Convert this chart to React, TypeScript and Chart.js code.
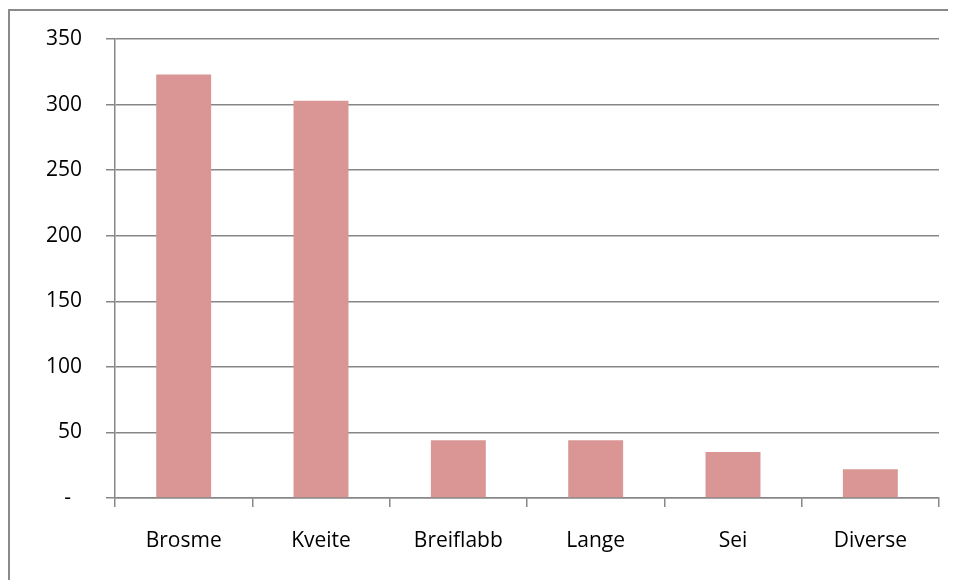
import React, { useEffect, useRef } from "react";
import { Chart, registerables } from "chart.js";

Chart.register(...registerables);

const categories = ["Brosme", "Kveite", "Breiflabb", "Lange", "Sei", "Diverse"];
const values = [323, 303, 44, 44, 35, 22];
const yMin = 0;
const yMax = 350;
const yStep = 50;

const GRID = "#878787";
const FONT = "'Open Sans', 'Noto Sans', sans-serif";

export default function App() {
  const ref = useRef<HTMLCanvasElement | null>(null);

  useEffect(() => {
    document.body.style.overflow = "hidden";
    if (!ref.current) return;
    const chart = new Chart(ref.current, {
      type: "bar",
      data: {
        labels: categories,
        datasets: [
          {
            data: values,
            backgroundColor: "#D99694",
            borderWidth: 0,
            barPercentage: 0.4,
            categoryPercentage: 1,
          },
        ],
      },
      options: {
        responsive: false,
        animation: false,
        maintainAspectRatio: false,
        plugins: { legend: { display: false }, tooltip: { enabled: false } },
        layout: { padding: { left: 0, right: 9, top: 28, bottom: 0 } },
        scales: {
          x: {
            offset: true,
            grid: {
              offset: true,
              drawOnChartArea: false,
              drawTicks: true,
              tickLength: 9,
              color: GRID,
              lineWidth: 1.5,
            },
            border: { color: GRID, width: 1.5 },
            ticks: {
              color: "#000",
              font: { family: FONT, size: 21 },
              padding: 21,
              maxRotation: 0,
              autoSkip: false,
            },
            afterFit: (scale: any) => {
              scale.height = 82;
            },
          },
          y: {
            min: yMin,
            max: yMax,
            grid: {
              color: GRID,
              lineWidth: 1.5,
              tickLength: 9,
              drawTicks: true,
            },
            border: { color: GRID, width: 1.5 },
            ticks: {
              stepSize: yStep,
              color: "#000",
              font: { family: FONT, size: 21 },
              padding: 24,
              callback: (v: any) => (Number(v) === 0 ? "-  " : String(v)),
            },
            afterFit: (scale: any) => {
              scale.width = 105;
              scale.paddingTop = 0;
              scale.paddingBottom = 0;
            },
          },
        },
      },
    });
    return () => chart.destroy();
  }, []);

  return (
    <div
      style={{
        position: "relative",
        marginTop: 1,
        width: 946,
        height: 569,
        borderLeft: "2px solid #8a8a8a",
        borderTop: "2px solid #8a8a8a",
        background: "#fff",
      }}
    >
      <canvas
        ref={ref}
        width={938}
        height={569}
        style={{ position: "absolute", left: 0, top: 0, display: "block" }}
      />
    </div>
  );
}
